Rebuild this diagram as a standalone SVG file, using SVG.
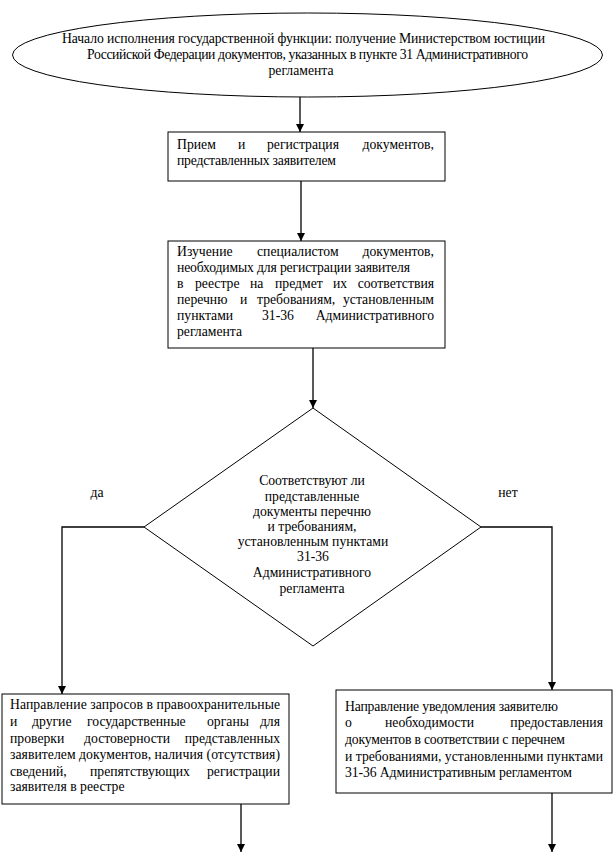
<svg xmlns="http://www.w3.org/2000/svg" width="614" height="853" viewBox="0 0 614 853">
<style>
text{font-family:'Liberation Serif','Times New Roman',serif;font-size:13.7px;fill:#000}
.c{text-anchor:middle}
.e{text-anchor:end}
.shape{fill:#fff;stroke:#000;stroke-width:1}
.conn{fill:none;stroke:#000;stroke-width:1.3}
</style>
<defs>
<marker id="arr" markerWidth="8" markerHeight="8" refX="8" refY="4" orient="auto" markerUnits="userSpaceOnUse">
<path d="M0,0 L8,4 L0,8 Z" fill="#000"/>
</marker>
</defs>
<rect width="614" height="853" fill="#fff"/>

<g id="connectors">
<path class="conn" d="M300,97 V132" marker-end="url(#arr)"/>
<path class="conn" d="M301,181 V241" marker-end="url(#arr)"/>
<path class="conn" d="M313,348 V408" marker-end="url(#arr)"/>
<path class="conn" d="M144,527 H62 V694" marker-end="url(#arr)"/>
<path class="conn" d="M481,527 H552 V690" marker-end="url(#arr)"/>
<path class="conn" d="M241,804 V852" marker-end="url(#arr)"/>
<path class="conn" d="M552,793 V852" marker-end="url(#arr)"/>
<text x="97" y="497" class="c">да</text>
<text x="508" y="497" class="c">нет</text>
</g>

<g id="start">
<ellipse class="shape" cx="307.5" cy="55" rx="295" ry="42"/>
<text x="62" y="43" textLength="483" lengthAdjust="spacing">Начало исполнения государственной функции: получение Министерством юстиции</text>
<text x="87" y="59" textLength="441" lengthAdjust="spacing">Российской Федерации документов, указанных в пункте 31 Административного</text>
<text x="301" y="75" class="c">регламента</text>
</g>

<g id="receive">
<rect class="shape" x="168" y="132" width="277" height="49"/>
<text x="177" y="149">Прием</text>
<text x="238" y="149">и</text>
<text x="267" y="149">регистрация</text>
<text x="434" y="149" class="e">документов,</text>
<text x="177" y="165" textLength="159" lengthAdjust="spacing">представленных заявителем</text>
</g>

<g id="study">
<rect class="shape" x="168" y="241" width="277" height="107"/>
<text x="177" y="256">Изучение</text>
<text x="257" y="256">специалистом</text>
<text x="434" y="256" class="e">документов,</text>
<text x="177" y="272" textLength="233" lengthAdjust="spacing">необходимых для регистрации заявителя</text>
<text x="177" y="288">в</text>
<text x="195" y="288">реестре</text>
<text x="250" y="288">на</text>
<text x="275" y="288">предмет</text>
<text x="333" y="288">их</text>
<text x="434" y="288" class="e">соответствия</text>
<text x="177" y="304">перечню</text>
<text x="240" y="304">и</text>
<text x="257" y="304">требованиям,</text>
<text x="434" y="304" class="e">установленным</text>
<text x="177" y="320">пунктами</text>
<text x="262" y="320">31-36</text>
<text x="434" y="320" class="e">Административного</text>
<text x="177" y="336">регламента</text>
</g>

<g id="decision">
<polygon class="shape" points="313,408 481,527 313,646 144,527"/>
<text x="312" y="485" class="c">Соответствуют ли</text>
<text x="312" y="501" class="c">представленные</text>
<text x="312" y="516" class="c">документы перечню</text>
<text x="312" y="531" class="c">и требованиям,</text>
<text x="313" y="546" class="c">установленным пунктами</text>
<text x="313" y="561" class="c">31-36</text>
<text x="312" y="577" class="c">Административного</text>
<text x="312" y="593" class="c">регламента</text>
</g>

<g id="requests">
<rect class="shape" x="2" y="694" width="287" height="110"/>
<text x="10" y="709" textLength="270" lengthAdjust="spacing">Направление запросов в правоохранительные</text>
<text x="10" y="726">и</text>
<text x="32" y="726">другие</text>
<text x="87" y="726">государственные</text>
<text x="207" y="726">органы</text>
<text x="280" y="726" class="e">для</text>
<text x="10" y="743">проверки</text>
<text x="84" y="743">достоверности</text>
<text x="280" y="743" class="e">представленных</text>
<text x="10" y="759" textLength="270" lengthAdjust="spacing">заявителем документов, наличия (отсутствия)</text>
<text x="10" y="776">сведений,</text>
<text x="90" y="776">препятствующих</text>
<text x="280" y="776" class="e">регистрации</text>
<text x="10" y="791">заявителя в реестре</text>
</g>

<g id="notify">
<rect class="shape" x="336" y="690" width="276" height="103"/>
<text x="345" y="711" textLength="213" lengthAdjust="spacing">Направление уведомления заявителю</text>
<text x="345" y="727">о</text>
<text x="385" y="727">необходимости</text>
<text x="603" y="727" class="e">предоставления</text>
<text x="345" y="744" textLength="220" lengthAdjust="spacing">документов в соответствии с перечнем</text>
<text x="345" y="761" textLength="258" lengthAdjust="spacing">и требованиями, установленными пунктами</text>
<text x="345" y="777" textLength="227" lengthAdjust="spacing">31-36 Административным регламентом</text>
</g>
</svg>
